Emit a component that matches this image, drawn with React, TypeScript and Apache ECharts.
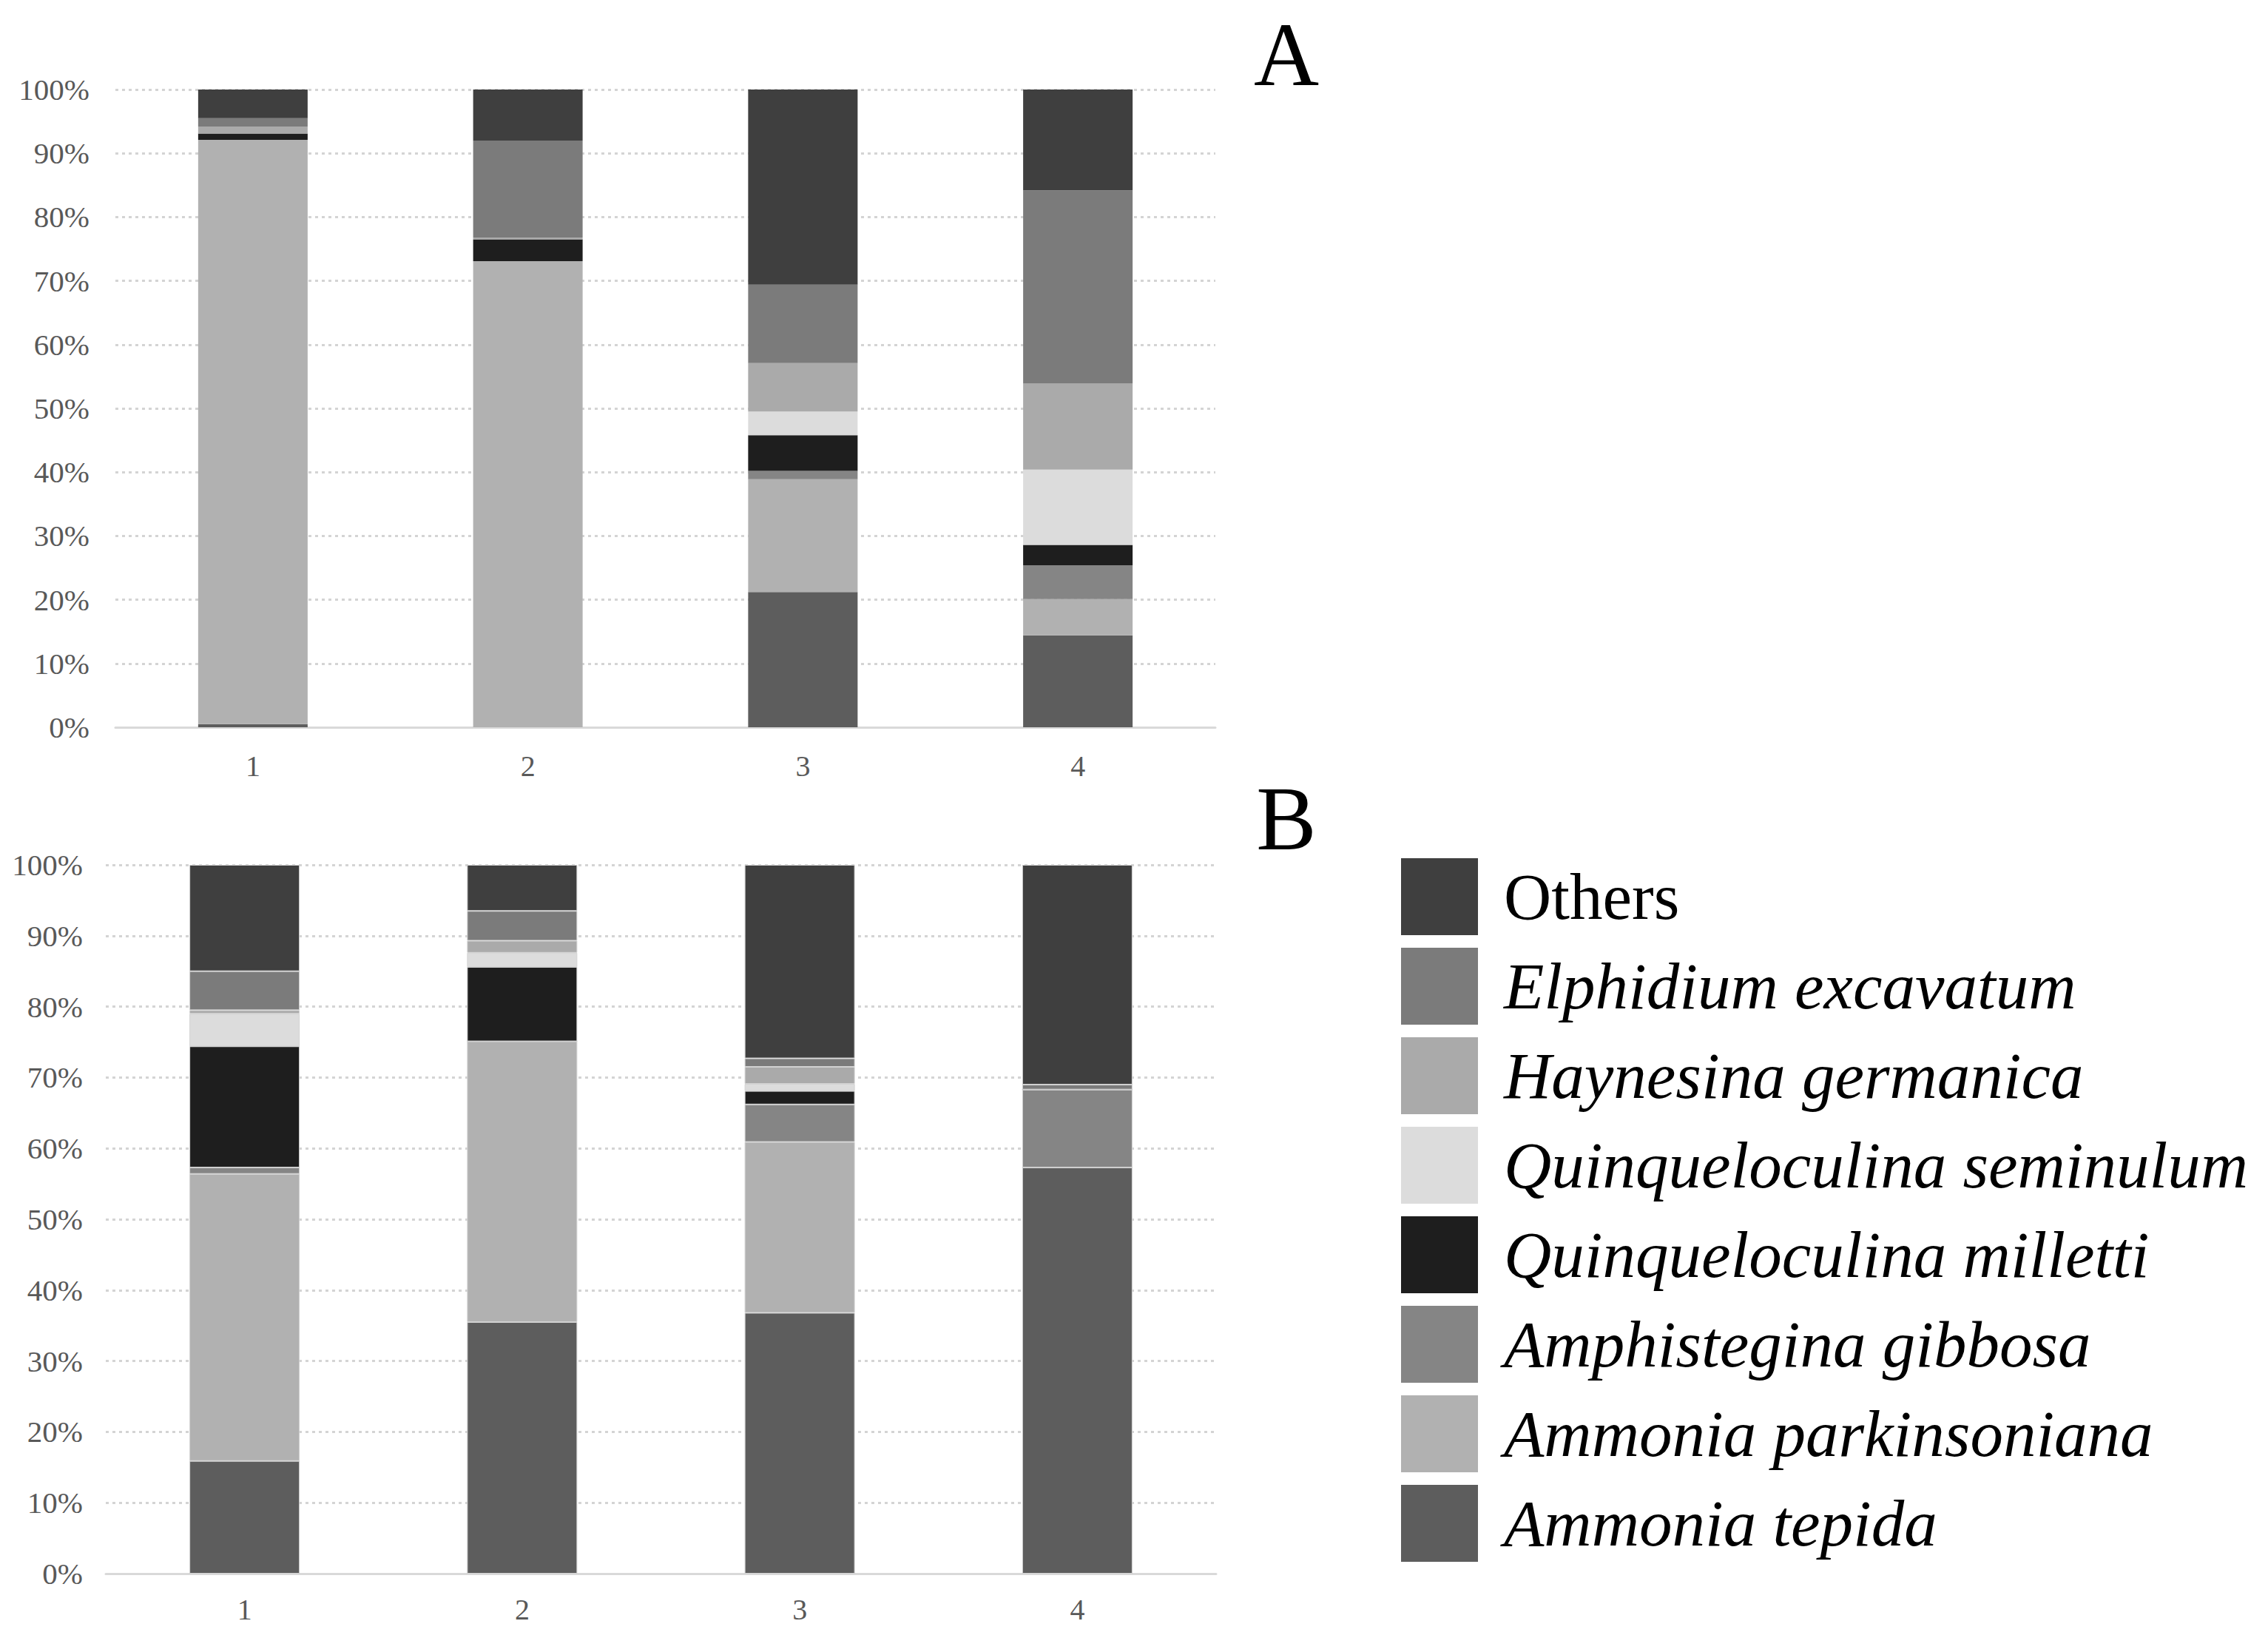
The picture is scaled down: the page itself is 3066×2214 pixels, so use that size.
import React, { useEffect, useRef } from "react";
import * as echarts from "echarts";

// Categories (stations) and axis ticks
const categories = ["1", "2", "3", "4"];
const yTicksMax = 100;

// Species, bottom of stack first
const speciesNames = [
  "Ammonia tepida",
  "Ammonia parkinsoniana",
  "Amphistegina gibbosa",
  "Quinqueloculina milletti",
  "Quinqueloculina seminulum",
  "Haynesina germanica",
  "Elphidium excavatum",
  "Others",
];
const speciesColors = [
  "#5d5d5d",
  "#b1b1b1",
  "#858585",
  "#1e1e1e",
  "#dcdcdc",
  "#aaaaaa",
  "#7b7b7b",
  "#3f3f3f",
];

// Panel A (% relative abundance)
const tepidaA = [0.5, 0, 21.2, 14.4];
const parkinsonianaA = [91.6, 73.1, 17.7, 5.7];
const gibbosaA = [0, 0, 1.3, 5.3];
const millettiA = [1.0, 3.4, 5.6, 3.2];
const seminulumA = [0, 0, 3.7, 11.8];
const germanicaA = [1.1, 0.3, 7.6, 13.5];
const excavatumA = [1.3, 15.2, 12.3, 30.3];
const othersA = [4.5, 8.0, 30.6, 15.8];

// Panel B (% relative abundance)
const tepidaB = [15.9, 35.5, 36.8, 57.3];
const parkinsonianaB = [40.5, 39.6, 24.1, 0];
const gibbosaB = [0.9, 0, 5.3, 11.0];
const millettiB = [17.1, 10.5, 1.9, 0];
const seminulumB = [4.6, 2.0, 1.0, 0];
const germanicaB = [0.5, 1.7, 2.4, 0];
const excavatumB = [5.5, 4.2, 1.2, 0.7];
const othersB = [15.0, 6.5, 27.3, 31.0];

const panelA = [tepidaA, parkinsonianaA, gibbosaA, millettiA, seminulumA, germanicaA, excavatumA, othersA];
const panelB = [tepidaB, parkinsonianaB, gibbosaB, millettiB, seminulumB, germanicaB, excavatumB, othersB];

const legendOrder = [...speciesNames].reverse();

const FONT = "Liberation Serif";
const LABEL_COLOR = "#595959";

export default function App() {
  const ref = useRef<HTMLDivElement>(null);

  useEffect(() => {
    if (!ref.current) return;
    const chart = echarts.init(ref.current, undefined, { renderer: "svg" });

    const makeX = (gridIndex: number, margin: number) => ({
      type: "category",
      gridIndex,
      data: categories,
      axisTick: { show: false },
      axisLine: { show: true, lineStyle: { color: "#d9d9d9", width: 3 } },
      axisLabel: { fontFamily: FONT, fontSize: 40, color: LABEL_COLOR, margin },
    });
    const makeY = (gridIndex: number, margin: number) => ({
      type: "value",
      gridIndex,
      min: 0,
      max: yTicksMax,
      interval: 10,
      axisLine: { show: false },
      axisTick: { show: false },
      axisLabel: {
        fontFamily: FONT,
        fontSize: 41,
        color: LABEL_COLOR,
        margin,
        formatter: "{value}%",
      },
      splitLine: { show: true, lineStyle: { type: [4, 5], color: "#d4d4d4", width: 3 } },
    });

    const series: any[] = [];
    speciesNames.forEach((name, i) => {
      series.push({
        name,
        type: "bar",
        stack: "A",
        xAxisIndex: 0,
        yAxisIndex: 0,
        barWidth: 148,
        data: panelA[i],
        itemStyle: { color: speciesColors[i] },
      });
    });
    speciesNames.forEach((name, i) => {
      series.push({
        name,
        type: "bar",
        stack: "B",
        xAxisIndex: 1,
        yAxisIndex: 1,
        barWidth: 149,
        data: panelB[i],
        itemStyle: { color: speciesColors[i], borderColor: "#d2d2d2", borderWidth: 1 },
      });
    });

    chart.setOption({
      animation: false,
      backgroundColor: "#ffffff",
      grid: [
        { left: 156, top: 121, width: 1487, height: 862 },
        { left: 143, top: 1169, width: 1501, height: 958 },
      ],
      xAxis: [makeX(0, 32), makeX(1, 28)],
      yAxis: [makeY(0, 35), makeY(1, 31)],
      legend: {
        orient: "vertical",
        left: 1889,
        top: 1155,
        itemWidth: 104,
        itemHeight: 104,
        itemGap: 17,
        icon: "rect",
        selectedMode: false,
        textStyle: {
          fontFamily: FONT,
          fontSize: 89,
          color: "#000000",
          fontStyle: "italic",
          padding: [0, 0, 0, 30],
        },
        data: legendOrder.map((n) =>
          n === "Others" ? { name: n, textStyle: { fontStyle: "normal" } } : { name: n }
        ),
      },
      graphic: [
        {
          type: "text",
          x: 1739,
          y: 73,
          style: {
            text: "A",
            fontFamily: FONT,
            fontSize: 122,
            fill: "#000000",
            textAlign: "center",
            textVerticalAlign: "middle",
          },
        },
        {
          type: "text",
          x: 1739,
          y: 1106,
          style: {
            text: "B",
            fontFamily: FONT,
            fontSize: 122,
            fill: "#000000",
            textAlign: "center",
            textVerticalAlign: "middle",
          },
        },
      ],
      series,
    });

    return () => chart.dispose();
  }, []);

  return (
    <div
      ref={ref}
      style={{ position: "absolute", left: 0, top: 0, width: 3066, height: 2214 }}
    />
  );
}
